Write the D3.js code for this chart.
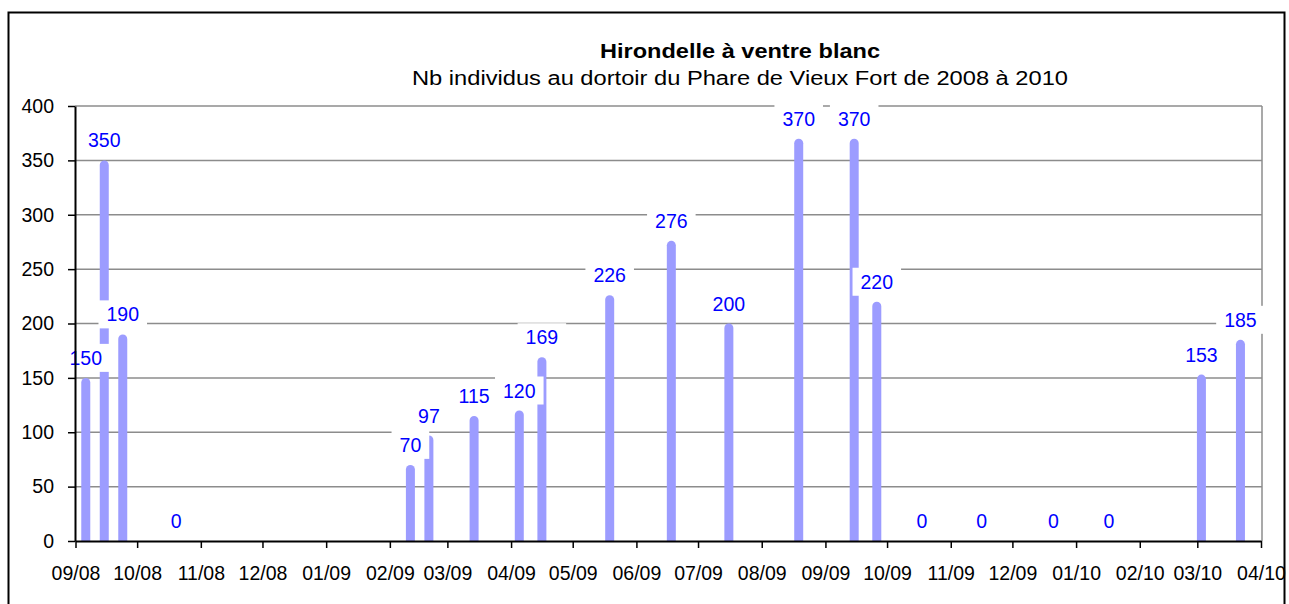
<!DOCTYPE html>
<html>
<head>
<meta charset="utf-8">
<script src="https://cdn.jsdelivr.net/npm/d3@7"></script>
<style>
  body { margin: 0; background: #fff; }
  svg { display: block; font-family: "Liberation Sans", Arial, sans-serif; }
</style>
</head>
<body>
<svg width="1289" height="604"></svg>
<script>
// Survey dates and counts
const dates = [
  "2008-09-06", "2008-09-15", "2008-09-24", "2008-10-20",
  "2009-02-11", "2009-02-20", "2009-03-14", "2009-04-05", "2009-04-16",
  "2009-05-19", "2009-06-18", "2009-07-16", "2009-08-19", "2009-09-15",
  "2009-09-26", "2009-10-18", "2009-11-16", "2009-12-21", "2010-01-17",
  "2010-03-03", "2010-03-22"
];
const counts = [150, 350, 190, 0, 70, 97, 115, 120, 169, 226, 276, 200, 370, 370, 220, 0, 0, 0, 0, 153, 185];
const yTicks = [0, 50, 100, 150, 200, 250, 300, 350, 400];
const title = "Hirondelle à ventre  blanc";
const subtitle = "Nb individus au dortoir du Phare de Vieux Fort de 2008 à 2010";

const parse = d3.timeParse("%Y-%m-%d");
const data = dates.map((d, i) => ({ date: parse(d), value: counts[i] }));
const fs = "19.5px";

const svg = d3.select("svg");

// outer chart border
svg.append("rect")
  .attr("x", 8.5).attr("y", 12.5)
  .attr("width", 1276).attr("height", 640)
  .attr("fill", "none").attr("stroke", "#000").attr("stroke-width", 2);

// titles
svg.append("text")
  .attr("x", 740).attr("y", 58)
  .attr("text-anchor", "middle")
  .attr("font-size", fs).attr("font-weight", "bold")
  .attr("textLength", 280).attr("lengthAdjust", "spacingAndGlyphs")
  .text(title);
svg.append("text")
  .attr("x", 740).attr("y", 85)
  .attr("text-anchor", "middle")
  .attr("font-size", fs)
  .attr("textLength", 656).attr("lengthAdjust", "spacingAndGlyphs")
  .text(subtitle);

const x = d3.scaleTime()
  .domain([parse("2008-09-01"), parse("2010-04-01")])
  .range([75.5, 1261]);
const y = d3.scaleLinear().domain([0, 400]).range([541, 106]);

// gridlines
svg.append("g")
  .selectAll("line")
  .data(yTicks.filter(t => t > 0))
  .join("line")
  .attr("x1", 75).attr("x2", 1262)
  .attr("y1", d => y(d)).attr("y2", d => y(d))
  .attr("stroke", "#8c8c8c").attr("stroke-width", 1.5);

// right plot border
svg.append("line")
  .attr("x1", 1262).attr("x2", 1262)
  .attr("y1", y(400)).attr("y2", y(0))
  .attr("stroke", "#8c8c8c").attr("stroke-width", 1.5);

// bars with rounded tops
const bw = 9;
function barPath(d) {
  const cx = x(d.date), top = y(d.value), base = y(0), r = bw / 2;
  return `M${cx - r},${base} L${cx - r},${top + r} A${r},${r} 0 0 1 ${cx + r},${top + r} L${cx + r},${base} Z`;
}
svg.append("g")
  .selectAll("path")
  .data(data.filter(d => d.value > 0))
  .join("path")
  .attr("d", barPath)
  .attr("fill", "#9c9cff");

// data labels with white boxes
const labels = svg.append("g");
data.forEach(d => {
  const cx = x(d.date), cy = y(d.value) - 20;
  const g = labels.append("g");
  const box = g.append("rect").attr("fill", "#fff");
  const t = g.append("text")
    .attr("x", cx).attr("y", cy + 7)
    .attr("text-anchor", "middle")
    .attr("font-size", fs)
    .attr("fill", "#0000ff")
    .text(d.value);
  const w = t.node().getComputedTextLength();
  box.attr("x", cx - w / 2 - 8).attr("y", cy - 14)
    .attr("width", w + 16).attr("height", 28);
});

// axes (on top of label boxes)
const yAxis = svg.append("g")
  .attr("transform", "translate(75,0)")
  .call(d3.axisLeft(y).tickValues(yTicks).tickSize(7).tickPadding(14).tickSizeOuter(0));
yAxis.select(".domain").attr("stroke", "#000").attr("stroke-width", 2);
yAxis.selectAll(".tick line").attr("stroke", "#000").attr("stroke-width", 1.5);
yAxis.selectAll("text").attr("font-size", fs).attr("fill", "#000")
  .attr("font-family", "Liberation Sans, Arial, sans-serif");

const xAxis = svg.append("g")
  .attr("transform", `translate(0,${y(0)})`)
  .call(d3.axisBottom(x).ticks(d3.timeMonth.every(1)).tickFormat(d3.timeFormat("%m/%y"))
    .tickSize(7).tickSizeOuter(0));
xAxis.select(".domain").attr("stroke", "#000").attr("stroke-width", 2);
xAxis.selectAll(".tick line").attr("stroke", "#000").attr("stroke-width", 1.5);
xAxis.selectAll("text")
  .attr("y", 39).attr("dy", null)
  .attr("font-size", fs).attr("fill", "#000")
  .attr("font-family", "Liberation Sans, Arial, sans-serif");
</script>
</body>
</html>
